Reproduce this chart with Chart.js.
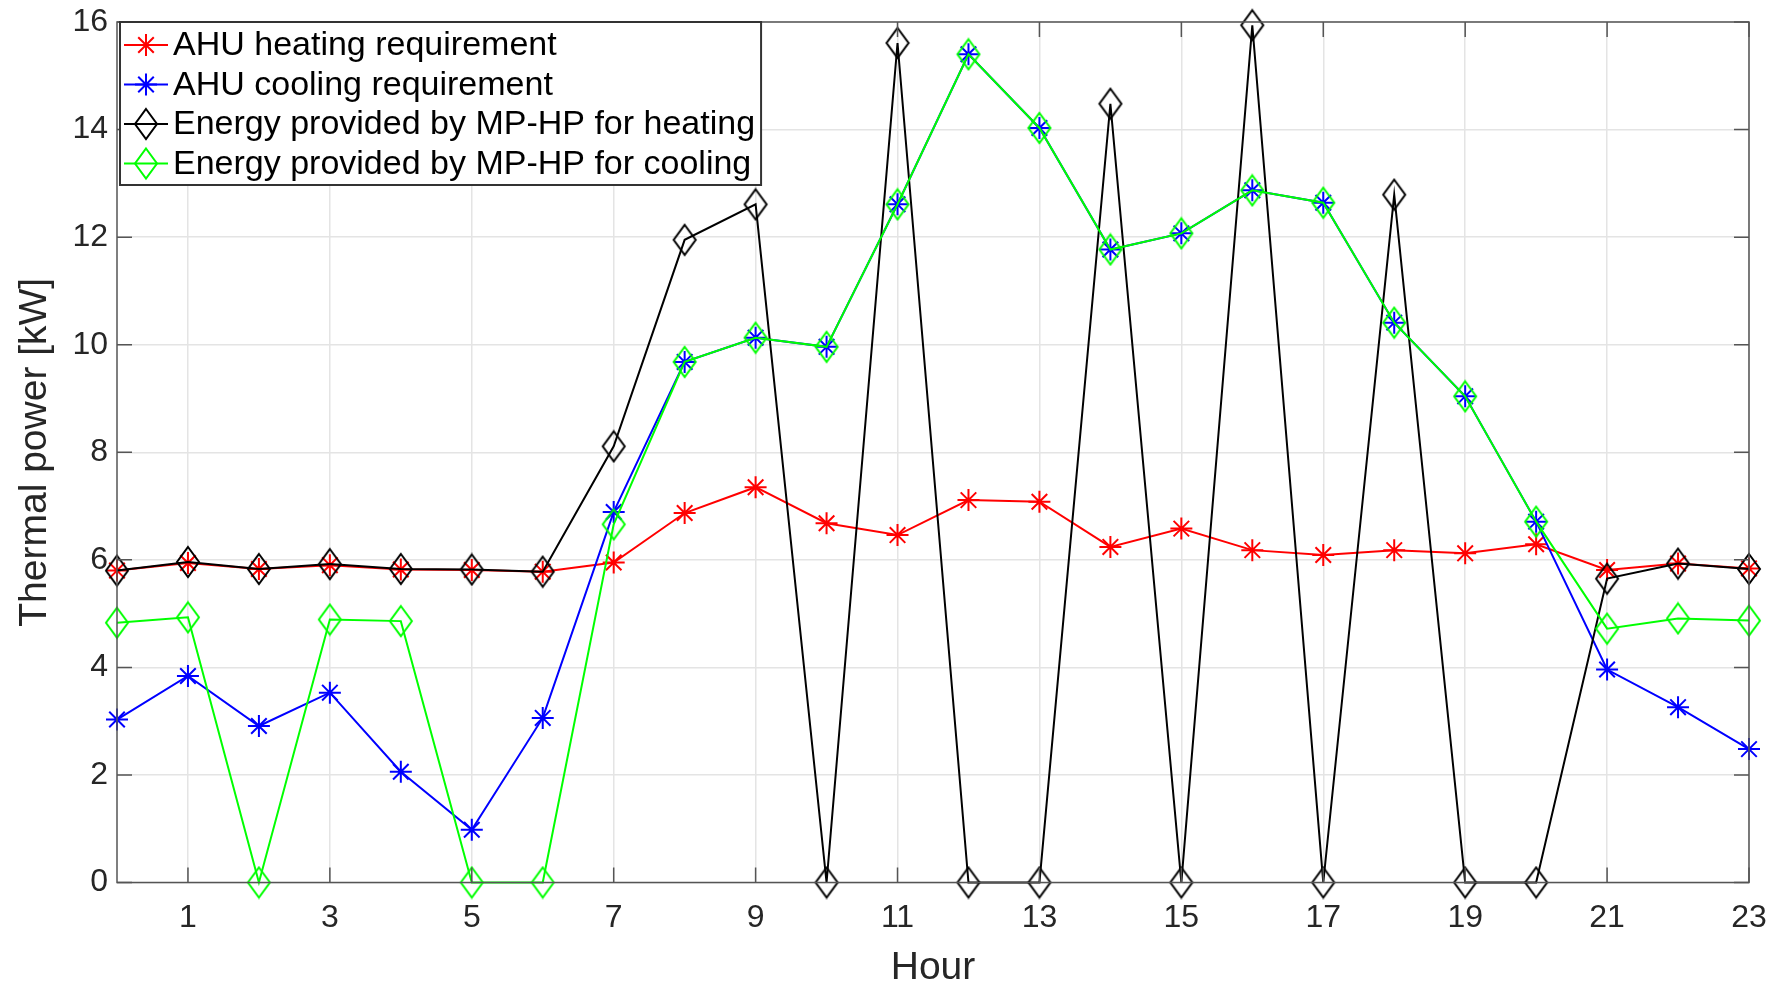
<!DOCTYPE html>
<html>
<head>
<meta charset="utf-8">
<script src="https://cdn.jsdelivr.net/npm/chart.js@4.4.1/dist/chart.umd.min.js"></script>
<style>
  html, body { margin: 0; padding: 0; background: #fff; }
</style>
</head>
<body>
<canvas id="chartContainer" width="1781" height="985"></canvas>
<script>
// hourly values (kW)
const hours = [0, 1, 2, 3, 4, 5, 6, 7, 8, 9, 10, 11, 12, 13, 14, 15, 16, 17, 18, 19, 20, 21, 22, 23];
const xTicks = [1, 3, 5, 7, 9, 11, 13, 15, 17, 19, 21, 23];
const yTicks = [0, 2, 4, 6, 8, 10, 12, 14, 16];

const ahuHeating = [5.80, 5.94, 5.83, 5.90, 5.82, 5.81, 5.78, 5.95, 6.87, 7.35, 6.68, 6.46,
                    7.11, 7.08, 6.24, 6.58, 6.18, 6.09, 6.18, 6.12, 6.29, 5.81, 5.93, 5.84];
const ahuCooling = [3.03, 3.84, 2.91, 3.53, 2.06, 0.98, 3.06, 6.89, 9.68, 10.13, 9.96, 12.61,
                    15.40, 14.03, 11.77, 12.07, 12.87, 12.64, 10.41, 9.04, 6.71, 3.96, 3.26, 2.48];
const mpHeating  = [5.80, 5.96, 5.83, 5.92, 5.83, 5.82, 5.78, 8.11, 11.95, 12.61, 0, 15.61,
                    0, 0, 14.48, 0, 15.94, 0, 12.79, 0, 0, 5.65, 5.93, 5.83];
const mpCooling  = [4.83, 4.93, 0, 4.89, 4.86, 0, 0, 6.66, 9.68, 10.13, 9.96, 12.61,
                    15.40, 14.03, 11.77, 12.07, 12.87, 12.64, 10.41, 9.04, 6.71, 4.72, 4.91, 4.87];

const seriesNames = [
  "AHU heating requirement",
  "AHU cooling requirement",
  "Energy provided by MP-HP for heating",
  "Energy provided by MP-HP for cooling"
];
const seriesColors = ["#ff0000", "#0000ff", "#000000", "#00ff00"];
const seriesMarkers = ["star", "star", "diamond", "diamond"];

const textColor = "#262626";
const axisColor = "#555555";
const gridColor = "#e4e4e4";

// matlab style diamond, a bit taller than wide
function diamondImage(color) {
  const c = document.createElement("canvas");
  c.width = 26; c.height = 34;
  const g = c.getContext("2d");
  g.strokeStyle = color;
  g.lineWidth = 2;
  g.beginPath();
  g.moveTo(13, 2); g.lineTo(24, 17); g.lineTo(13, 32); g.lineTo(2, 17);
  g.closePath();
  g.stroke();
  return c;
}

function makeDataset(i, values) {
  const isDiamond = seriesMarkers[i] === "diamond";
  return {
    label: seriesNames[i],
    data: hours.map((h, k) => ({ x: h, y: values[k] })),
    borderColor: seriesColors[i],
    backgroundColor: seriesColors[i],
    borderWidth: 2,
    pointStyle: isDiamond ? diamondImage(seriesColors[i]) : "star",
    pointRadius: 11,
    pointBorderWidth: 2,
    pointBorderColor: seriesColors[i],
    tension: 0,
    clip: false,
    order: 4 - i   // later series drawn on top, like matlab
  };
}

// box, inward ticks
const boxPlugin = {
  id: "box",
  afterDatasetsDraw(chart) {
    const { ctx, chartArea: a, scales } = chart;
    ctx.save();
    ctx.strokeStyle = axisColor;
    ctx.lineWidth = 1.5;
    ctx.strokeRect(a.left, a.top, a.right - a.left, a.bottom - a.top);
    const tl = 15;
    ctx.beginPath();
    xTicks.forEach(v => {
      const x = scales.x.getPixelForValue(v);
      ctx.moveTo(x, a.bottom); ctx.lineTo(x, a.bottom - tl);
      ctx.moveTo(x, a.top); ctx.lineTo(x, a.top + tl);
    });
    yTicks.forEach(v => {
      const y = scales.y.getPixelForValue(v);
      ctx.moveTo(a.left, y); ctx.lineTo(a.left + tl, y);
      ctx.moveTo(a.right, y); ctx.lineTo(a.right - tl, y);
    });
    ctx.stroke();
    ctx.restore();
  }
};

// legend in the upper left corner of the axes, with line + marker icons
const legendPlugin = {
  id: "boxLegend",
  afterDraw(chart) {
    const { ctx, chartArea: a } = chart;
    const fontSize = 34;
    const rowH = 39.5;
    const left = a.left + 3;
    const top = a.top;
    ctx.save();
    ctx.font = fontSize + "px 'Liberation Sans', Arial, sans-serif";
    let maxW = 0;
    seriesNames.forEach(n => { maxW = Math.max(maxW, ctx.measureText(n).width); });
    const textX = left + 53;
    const boxW = textX - left + maxW + 6;
    const boxH = rowH * seriesNames.length + 5;
    ctx.fillStyle = "#ffffff";
    ctx.fillRect(left, top, boxW, boxH);
    ctx.strokeStyle = "#333333";
    ctx.lineWidth = 2;
    ctx.strokeRect(left, top, boxW, boxH);

    seriesNames.forEach((name, i) => {
      const cy = top + 23 + i * rowH;
      const col = seriesColors[i];
      const cx = left + 26;
      ctx.strokeStyle = col;
      ctx.lineWidth = 2;
      ctx.beginPath();
      ctx.moveTo(left + 4, cy); ctx.lineTo(left + 48, cy);
      ctx.stroke();
      if (seriesMarkers[i] === "star") {
        const r = 11;
        const d = r * Math.SQRT1_2;
        ctx.beginPath();
        ctx.moveTo(cx - r, cy); ctx.lineTo(cx + r, cy);
        ctx.moveTo(cx, cy - r); ctx.lineTo(cx, cy + r);
        ctx.moveTo(cx - d, cy - d); ctx.lineTo(cx + d, cy + d);
        ctx.moveTo(cx - d, cy + d); ctx.lineTo(cx + d, cy - d);
        ctx.stroke();
      } else {
        ctx.beginPath();
        ctx.moveTo(cx, cy - 15); ctx.lineTo(cx + 11, cy); ctx.lineTo(cx, cy + 15); ctx.lineTo(cx - 11, cy);
        ctx.closePath();
        ctx.stroke();
      }
      ctx.fillStyle = "#000000";
      ctx.textBaseline = "middle";
      ctx.textAlign = "left";
      ctx.fillText(name, textX, cy + 1);
    });
    ctx.restore();
  }
};

const tickFont = { family: "'Liberation Sans', Arial, sans-serif", size: 32 };
const titleFont = { family: "'Liberation Sans', Arial, sans-serif", size: 39, lineHeight: 0.8 };

const chartOptions = {
  type: "line",
  data: {
    datasets: [
      makeDataset(0, ahuHeating),
      makeDataset(1, ahuCooling),
      makeDataset(2, mpHeating),
      makeDataset(3, mpCooling)
    ]
  },
  options: {
    responsive: false,
    devicePixelRatio: 1,
    animation: false,
    events: [],
    layout: { padding: { top: 22, right: 32, left: 0, bottom: 0 } },
    plugins: {
      legend: { display: false },
      tooltip: { enabled: false }
    },
    scales: {
      x: {
        type: "linear",
        min: 0,
        max: 23,
        afterBuildTicks: axis => { axis.ticks = xTicks.map(v => ({ value: v })); },
        afterFit: scale => { scale.height = 102.5; scale.paddingLeft = 0; scale.paddingRight = 0; },
        ticks: { font: tickFont, color: textColor, padding: 16, maxRotation: 0, autoSkip: false },
        grid: { color: gridColor, lineWidth: 1.5, drawTicks: false },
        border: { display: false },
        title: { display: true, text: "Hour", font: titleFont, color: textColor, padding: { top: 0, bottom: 1 } }
      },
      y: {
        type: "linear",
        min: 0,
        max: 16,
        afterBuildTicks: axis => { axis.ticks = yTicks.map(v => ({ value: v })); },
        afterFit: scale => { scale.width = 117; scale.paddingTop = 0; scale.paddingBottom = 0; },
        ticks: { font: tickFont, color: textColor, padding: 9 },
        grid: { color: gridColor, lineWidth: 1.5, drawTicks: false },
        border: { display: false },
        title: { display: true, text: "Thermal power [kW]", font: titleFont, color: textColor, padding: { top: 20, bottom: 0 } }
      }
    }
  },
  plugins: [boxPlugin, legendPlugin]
};

const lineChart = new Chart(document.getElementById("chartContainer"), chartOptions);
</script>
</body>
</html>
